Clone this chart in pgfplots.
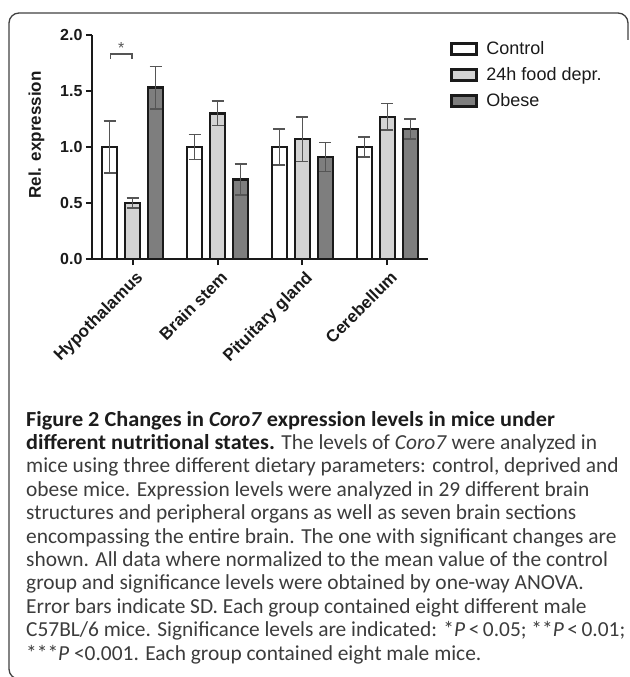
\documentclass[border=0pt]{standalone}
\usepackage{pgfplots}
\pgfplotsset{compat=1.18}
\usepackage{fontspec}
\setmainfont{Liberation Sans}
\newfontfamily\capfont[BoldFeatures={FakeStretch=1.04}]{Carlito}
\definecolor{barline}{HTML}{1A1A1A}
\definecolor{deprfill}{HTML}{D3D3D3}
\definecolor{obesefill}{HTML}{7E7E7E}
\definecolor{errcol}{HTML}{555555}
\definecolor{capgray}{HTML}{3C3C3C}
\definecolor{capblack}{HTML}{1C1C1C}
\definecolor{framecol}{HTML}{404040}
\begin{document}
\begin{tikzpicture}
\useasboundingbox (0pt,0pt) rectangle (629pt,-677pt);
\draw[framecol, line width=1.3pt, rounded corners=10pt] (22pt,-679pt) -- (9pt,-679pt) -- (9pt,-13pt) -- (628pt,-13pt) -- (628pt,-40pt);
\begin{axis}[
  at={(92pt,-259pt)}, anchor=south west,
  scale only axis, width=336pt, height=224pt,
  xmin=-0.48, xmax=3.48, ymin=0, ymax=2,
  axis x line*=bottom, axis y line*=left,
  axis line style={line width=2pt, barline},
  ytick={0,0.5,1,1.5,2},
  yticklabel style={/pgf/number format/.cd, fixed, fixed zerofill, precision=1, assume math mode=true},
  xtick={0,1,2,3},
  xticklabels={Hypothalamus, Brain stem, Pituitary gland, Cerebellum},
  tick align=outside, major tick length=6pt,
  tick style={line width=2pt, barline},
  ticklabel style={font=\bfseries\fontsize{16}{16}\selectfont, text=barline},
  xticklabel style={rotate=45, anchor=north east, inner sep=2pt, font=\bfseries\fontsize{17}{17}\selectfont, yshift=-3pt},
  ylabel={Rel. expression},
  every axis y label/.style={at={(axis description cs:-0.165,0.554)}, rotate=90, anchor=center, font=\bfseries\fontsize{17}{17}\selectfont, text=barline},
  ybar=8pt, bar width=15pt,
  every axis plot/.append style={draw=barline, line width=2.4pt},
  error bars/error bar style={line width=1.5pt, errcol},
  error bars/error mark options={rotate=90, mark size=6pt, line width=1.5pt, errcol},
  legend style={at={(axis description cs:1.066,0.98)}, anchor=north west, draw=none, fill=none, inner sep=0pt,
    row sep=7.5pt, font=\fontsize{18}{18}\selectfont, text=barline, legend cell align=left},
  legend image code/.code={\draw[#1, line width=2.2pt] (0pt,-5.5pt) rectangle (25pt,5.5pt); \path[draw=none, fill=none] (0pt,0pt) rectangle (33pt,0.1pt);},
  clip=false,
]
\addplot[fill=white, error bars/.cd, y dir=both, y explicit] coordinates {
  (0,1.00) +- (0,0.23)
  (1,1.00) +- (0,0.11)
  (2,1.00) +- (0,0.16)
  (3,1.00) +- (0,0.09)
};
\addplot[fill=deprfill, error bars/.cd, y dir=both, y explicit] coordinates {
  (0,0.50) +- (0,0.045)
  (1,1.30) +- (0,0.11)
  (2,1.07) +- (0,0.20)
  (3,1.27) +- (0,0.12)
};
\addplot[fill=obesefill, error bars/.cd, y dir=both, y explicit] coordinates {
  (0,1.53) +- (0,0.19)
  (1,0.71) +- (0,0.14)
  (2,0.91) +- (0,0.13)
  (3,1.16) +- (0,0.09)
};
\legend{Control, 24h food depr., Obese}
\draw[line width=1.3pt, errcol] (axis cs:-0.26,1.79) -- (axis cs:-0.26,1.83) -- (axis cs:-0.01,1.83) -- (axis cs:-0.01,1.79);
\node[errcol, font=\fontsize{16}{16}\selectfont] at (axis cs:-0.135,1.885) {*};
\end{axis}
\begin{scope}[font=\capfont\fontsize{21.4}{25}\selectfont, every node/.style={anchor=base west, inner sep=0pt, text=capgray}]
\node at (26pt,-426pt) {\textcolor{capblack}{\bfseries Figure 2 Changes in \textit{Coro7} expression levels in mice under}};
\node at (26pt,-449.4pt) {\textcolor{capblack}{\bfseries different nutritional states.} The levels of \textit{Coro7} were analyzed in};
\node at (26pt,-472.8pt) {mice using three different dietary parameters: control, deprived and};
\node at (26pt,-496.2pt) {obese mice. Expression levels were analyzed in 29 different brain};
\node at (26pt,-519.6pt) {structures and peripheral organs as well as seven brain sections};
\node at (26pt,-543pt) {encompassing the entire brain. The one with significant changes are};
\node at (26pt,-566.4pt) {shown. All data where normalized to the mean value of the control};
\node at (26pt,-589.8pt) {group and significance levels were obtained by one-way ANOVA.};
\node at (26pt,-613.2pt) {Error bars indicate SD. Each group contained eight different male};
\node at (26pt,-636.6pt) {C57BL/6 mice. Significance levels are indicated: *\textit{P}\,<\,0.05; **\textit{P}\,<\,0.01;};
\node at (26pt,-660pt) {***\textit{P} <0.001. Each group contained eight male mice.};
\end{scope}
\end{tikzpicture}
\end{document}
